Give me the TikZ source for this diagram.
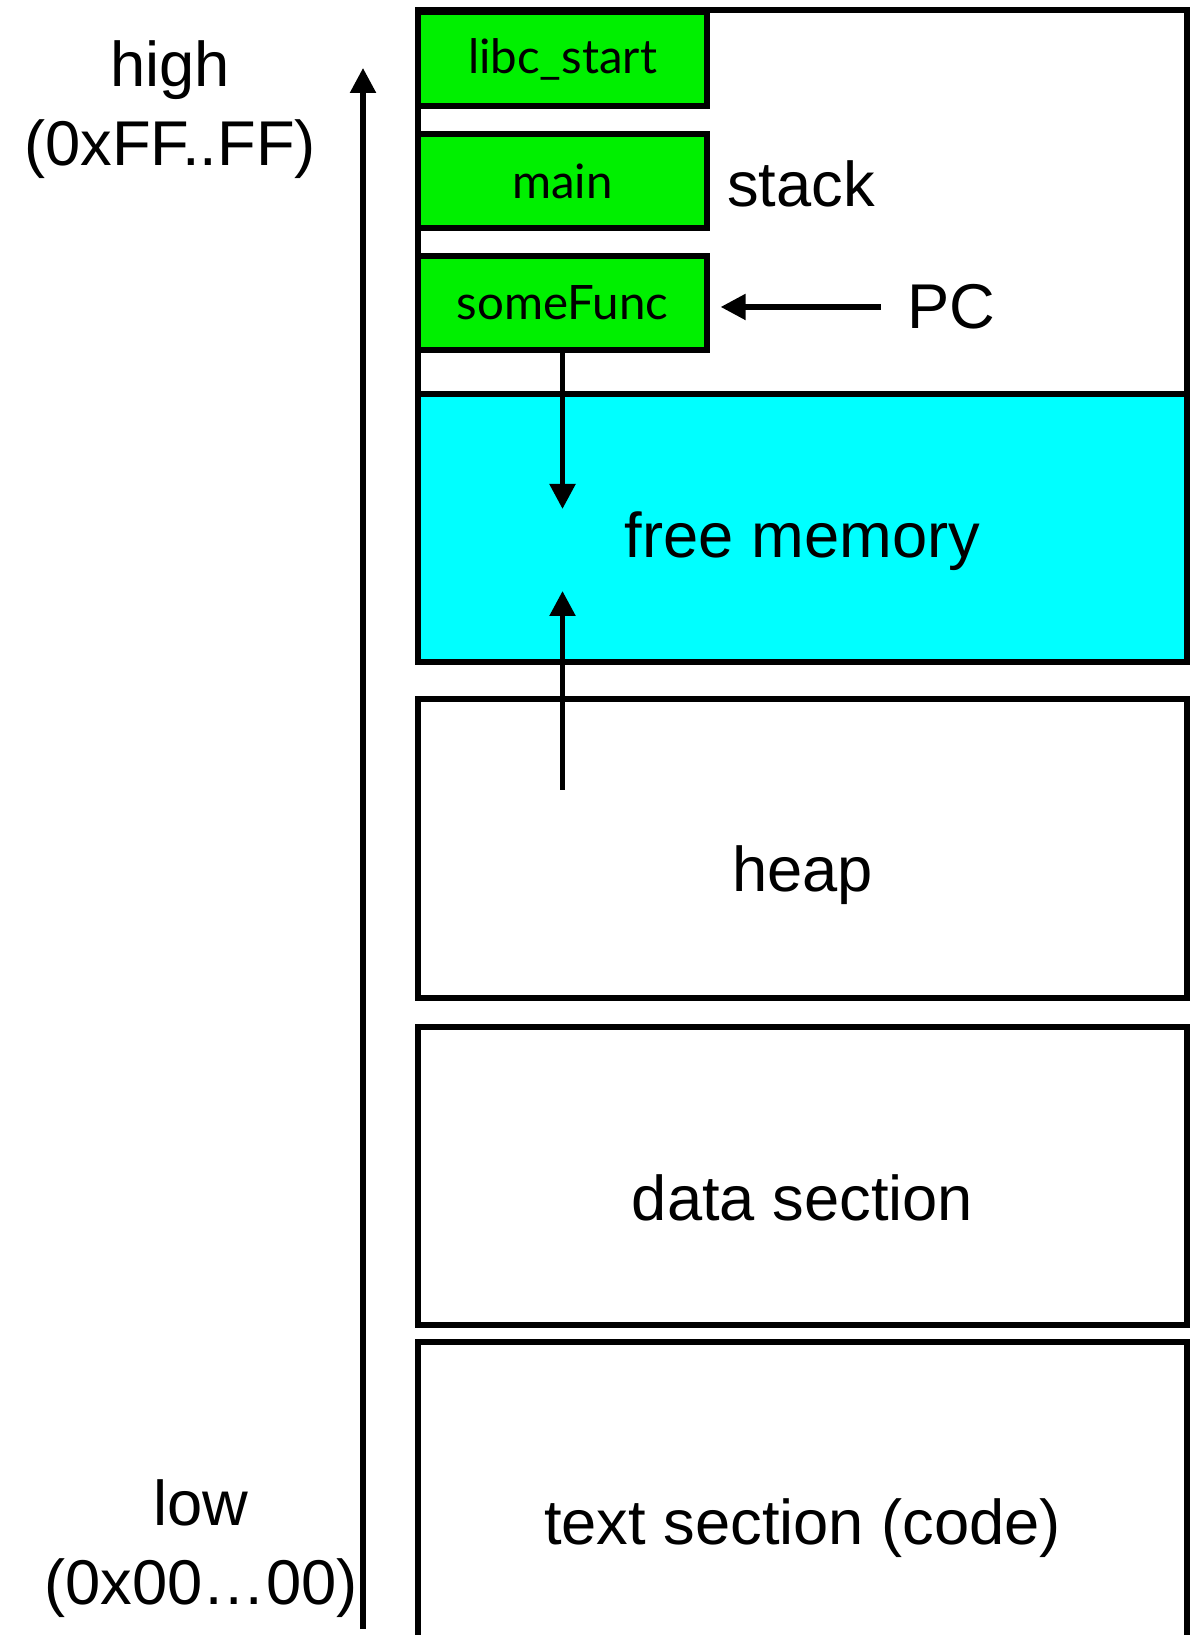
\documentclass[tikz,border=0pt]{standalone}
\usepackage{fontspec}
\setmainfont{Liberation Sans}
\newfontfamily\framefont{Lato}
\usetikzlibrary{arrows.meta}
\definecolor{framegreen}{RGB}{0,240,0}
\definecolor{freecyan}{RGB}{0,255,255}
\begin{document}
\begin{tikzpicture}[every node/.style={font=\fontsize{18}{22.5}\selectfont},
  seg/.style={draw,line width=1.5pt,minimum width=7.69cm,inner sep=0pt,text depth=0pt},
  frame/.style={draw,line width=1.5pt,fill=framegreen,minimum width=2.89cm,minimum height=0.94cm,inner sep=0pt,font=\framefont\fontsize{13.5}{16}\selectfont},
  growarrow/.style={-{Triangle[width=0.25cm,length=0.25cm]},line width=1.5pt}]
\useasboundingbox (0,0) rectangle (11.97,16.35);
\node[seg,minimum height=3.84cm] (stack) at (8.025,14.33) {};
\node[seg,fill=freecyan,minimum height=2.68cm,text height=0.60cm] (free) at (8.025,11.07) {free memory};
\node[seg,minimum height=2.99cm,text height=0.87cm] (heap) at (8.025,7.865) {heap};
\node[seg,minimum height=2.98cm,text height=0.90cm] (data) at (8.025,4.59) {data section};
\node[seg,minimum height=3.5cm,text height=0.54cm] (text) at (8.025,1.18) {text section (code)};
\node[frame] (libc) at (5.625,15.76) {libc\_start};
\node[frame] (main) at (5.625,14.54) {main};
\node[frame] (sf) at (5.625,13.32) {someFunc};
\node (stacklbl) at (8.01,14.51) {stack};
\node (pc) at (9.51,13.28) {PC};
\node[align=center] (high) at (1.70,15.25) {high\\(0xFF..FF)};
\node[align=center] (low) at (2.01,0.86) {low\\(0x00…00)};
\coordinate (addrlow) at (3.63,0.06);
\coordinate (addrhigh) at (3.63,15.67);
\coordinate (sfend) at (5.625,11.26);
\coordinate (heapgrow) at (5.625,8.45);
\coordinate (heapend) at (5.625,10.44);
\draw[growarrow] (addrlow) -- (addrhigh);
\draw[growarrow] (sf.south) -- (sfend);
\draw[growarrow] (heapgrow) -- (heapend);
\draw[growarrow,shorten <=0.14cm,shorten >=0.11cm] (pc.west) -- (sf.east |- pc.west);
\end{tikzpicture}
\end{document}
